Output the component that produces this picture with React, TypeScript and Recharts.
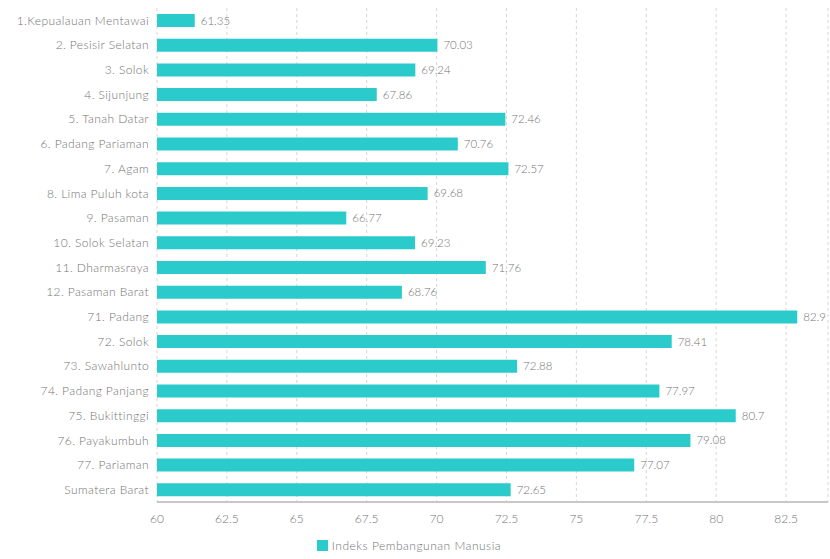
import React from 'react'
import { Bar, BarChart, CartesianGrid, LabelList, Legend, XAxis, YAxis } from 'recharts'

const regions = [
  '1.Kepualauan Mentawai',
  '2. Pesisir Selatan',
  '3. Solok',
  '4. Sijunjung',
  '5. Tanah Datar',
  '6. Padang Pariaman',
  '7. Agam',
  '8. Lima Puluh kota',
  '9. Pasaman',
  '10. Solok Selatan',
  '11. Dharmasraya',
  '12. Pasaman Barat',
  '71. Padang',
  '72. Solok',
  '73. Sawahlunto',
  '74. Padang Panjang',
  '75. Bukittinggi',
  '76. Payakumbuh',
  '77. Pariaman',
  'Sumatera Barat',
]

const ipm = [
  61.35, 70.03, 69.24, 67.86, 72.46, 70.76, 72.57, 69.68, 66.77, 69.23,
  71.76, 68.76, 82.9, 78.41, 72.88, 77.97, 80.7, 79.08, 77.07, 72.65,
]

const xTicks = [60, 62.5, 65, 67.5, 70, 72.5, 75, 77.5, 80, 82.5]

const data = regions.map((name, i) => ({ name, ipm: ipm[i] }))

const font = 'Lato, "Open Sans", sans-serif'
const textGray = '#747474'

export default function App() {
  return (
    <div style={{ position: 'absolute', left: 0, top: 0, fontFamily: font }}>
      <BarChart
        width={830}
        height={559}
        data={data}
        layout="vertical"
        margin={{ top: 8, right: 2, left: 0, bottom: 0 }}
        barSize={13}
      >
        <CartesianGrid horizontal={false} stroke="#d6d6d6" strokeDasharray="3 3" />
        <XAxis
          type="number"
          domain={[60, 84]}
          ticks={xTicks}
          allowDataOverflow
          height={32}
          tickLine={false}
          axisLine={{ stroke: '#c8c8c8', strokeWidth: 2 }}
          tick={{ fill: textGray, fontSize: 12, fontFamily: font, fontWeight: 300 }}
          tickMargin={6}
        />
        <YAxis
          type="category"
          dataKey="name"
          width={157}
          tickLine={false}
          axisLine={false}
          interval={0}
          tick={{ fill: textGray, fontSize: 12, fontFamily: font, fontWeight: 300, letterSpacing: 0.4 }}
        />
        <Legend
          verticalAlign="bottom"
          height={25}
          iconType="square"
          iconSize={11}
          formatter={(v) => (
            <span style={{ color: textGray, fontSize: 12, fontFamily: font, fontWeight: 300, letterSpacing: 0.5 }}>{v}</span>
          )}
        />
        <Bar dataKey="ipm" name="Indeks Pembangunan Manusia" fill="#2ccbcb" isAnimationActive={false}>
          <LabelList
            dataKey="ipm"
            position="right"
            offset={6}
            style={{ fill: textGray, fontSize: 11.5, fontFamily: font, fontWeight: 300 }}
          />
        </Bar>
      </BarChart>
    </div>
  )
}
